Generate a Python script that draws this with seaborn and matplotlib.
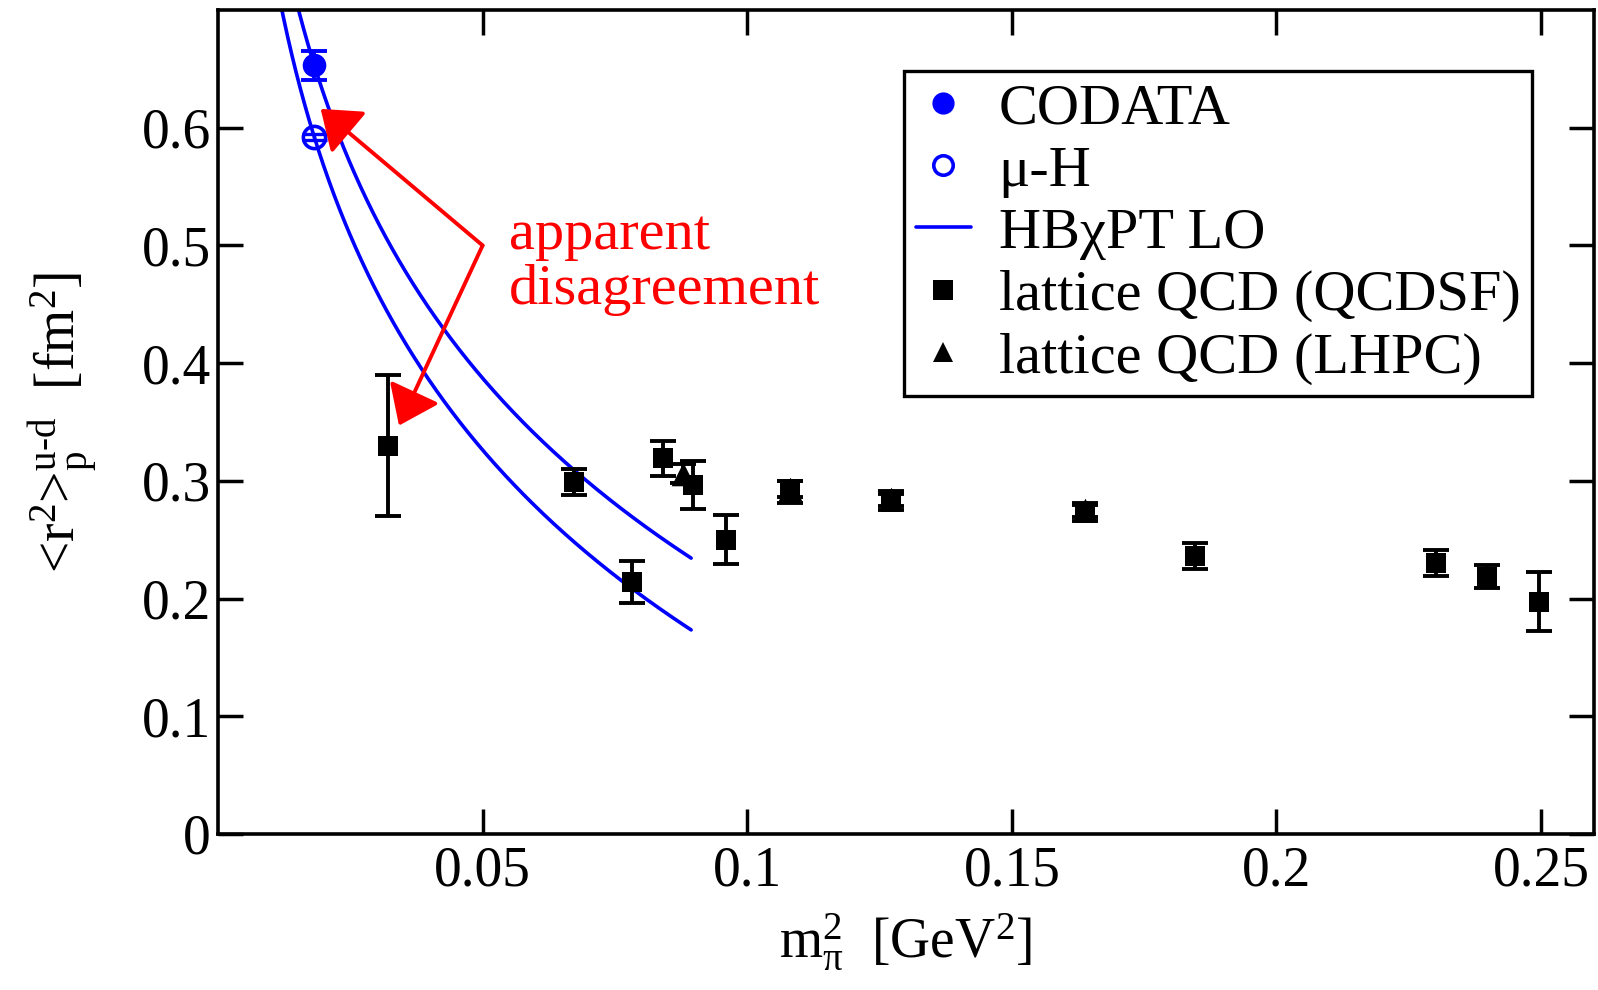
import numpy as np
import pandas as pd
import matplotlib
matplotlib.use("Agg")
import matplotlib.pyplot as plt
from matplotlib.lines import Line2D
import seaborn as sns

# ---- data -----------------------------------------------------------------
# physical pion mass squared [GeV^2]
mpi2_phys = 0.0182

# experimental isovector radii [fm^2]
codata_r2 = 0.653
codata_err = 0.0125
muH_r2 = 0.592
muH_err = 0.0025

# lattice QCD (QCDSF)
qcdsf_mpi2 = [0.0322, 0.0673, 0.0783, 0.0840, 0.0898, 0.0959, 0.1081,
              0.1272, 0.1638, 0.1847, 0.2302, 0.2398, 0.2496]
qcdsf_r2 = [0.330, 0.299, 0.214, 0.319, 0.2965, 0.250, 0.2906,
            0.282, 0.2728, 0.2363, 0.230, 0.2187, 0.1973]
qcdsf_err = [0.060, 0.011, 0.018, 0.015, 0.020, 0.021, 0.009,
             0.007, 0.007, 0.011, 0.011, 0.010, 0.025]

# lattice QCD (LHPC)
lhpc_mpi2 = [0.0879, 0.1081, 0.1272, 0.1638]
lhpc_r2 = [0.306, 0.293, 0.285, 0.275]
lhpc_err = [0.008, 0.007, 0.006, 0.006]

# HBChPT LO: r2(m) = r2_phys - slope * ln(m^2 / m_phys^2)
hb_slope = 0.263          # (1 + 5 g_A^2) / (4 pi f_pi)^2 in fm^2
hb_mpi2_min = 0.010
hb_mpi2_max = 0.0894

# annotation arrows
arrow_origin = (0.050, 0.500)
arrow_tips = [(0.0194, 0.616), (0.0342, 0.347)]
note_pos = (0.0549, 0.450)

xticks = [0.05, 0.10, 0.15, 0.20, 0.25]
yticks = [0.0, 0.1, 0.2, 0.3, 0.4, 0.5, 0.6]

# ---- style ------------------------------------------------------------------
sns.set_theme(style="ticks")
plt.rcParams["font.family"] = ["Liberation Serif", "DejaVu Serif"]
plt.rcParams["mathtext.fontset"] = "custom"
plt.rcParams["mathtext.rm"] = "Liberation Serif"
plt.rcParams["mathtext.it"] = "Liberation Serif:italic"
plt.rcParams["mathtext.bf"] = "Liberation Serif:bold"
plt.rcParams["text.color"] = "black"
plt.rcParams["axes.labelcolor"] = "black"

FS = 40
FS_LEG = 42
BLUE = "#0000ff"
RED = "#ff0000"

fig = plt.figure(figsize=(15.98, 9.90), dpi=100)
ax = fig.add_axes([218 / 1598, 1 - 834 / 990, (1594 - 218) / 1598, (834 - 10) / 990])

# ---- chiral curves ------------------------------------------------------------
m = np.linspace(hb_mpi2_min, hb_mpi2_max, 400)
curves = pd.concat([
    pd.DataFrame({"mpi2": m, "r2": r0 - hb_slope * np.log(m / mpi2_phys), "fit": name})
    for name, r0 in [("CODATA", codata_r2), ("muH", muH_r2)]
])
sns.lineplot(data=curves, x="mpi2", y="r2", units="fit", estimator=None,
             color=BLUE, lw=2.6, ax=ax, legend=False, zorder=2)

# ---- error bars ---------------------------------------------------------------
eb = dict(fmt="none", ecolor="black", elinewidth=2.8, capsize=9.5, capthick=2.8, zorder=3)
ax.errorbar(lhpc_mpi2, lhpc_r2, yerr=lhpc_err, **eb)
ax.errorbar(qcdsf_mpi2, qcdsf_r2, yerr=qcdsf_err, **eb)
ax.errorbar([mpi2_phys], [codata_r2], yerr=[codata_err], fmt="none", ecolor=BLUE,
            elinewidth=2.8, capsize=9.5, capthick=2.8, zorder=3)
ax.errorbar([mpi2_phys], [muH_r2], yerr=[muH_err], fmt="none", ecolor=BLUE,
            elinewidth=2.4, capsize=9.0, capthick=2.4, zorder=3)

# ---- markers -----------------------------------------------------------------
sns.scatterplot(x=lhpc_mpi2, y=lhpc_r2, marker="^", s=17 ** 2, color="black",
                linewidth=0, ax=ax, zorder=4, legend=False)
sns.scatterplot(x=qcdsf_mpi2, y=qcdsf_r2, marker="s", s=15 ** 2, color="black",
                linewidth=0, ax=ax, zorder=5, legend=False)
sns.scatterplot(x=[mpi2_phys], y=[codata_r2], marker="o", s=17 ** 2, color=BLUE,
                linewidth=0, ax=ax, zorder=5, legend=False)
ax.plot([mpi2_phys], [muH_r2], marker="o", ms=16, mfc="none", mec=BLUE, mew=2.6,
        ls="none", zorder=5)

# ---- annotation ----------------------------------------------------------------
for tip in arrow_tips:
    ax.annotate("", xy=tip, xytext=arrow_origin,
                arrowprops=dict(arrowstyle="-|>,head_length=23,head_width=17",
                                mutation_scale=1, color=RED, lw=2.8,
                                shrinkA=0, shrinkB=0), zorder=6)
ax.text(note_pos[0], note_pos[1], "apparent\ndisagreement", color=RED, fontsize=FS_LEG,
        ha="left", va="baseline", linespacing=1.09, zorder=6)

# ---- axes -------------------------------------------------------------------------
ax.set_xlim(0, 0.26)
ax.set_ylim(0, 0.70)
ax.set_xticks(xticks)
ax.set_yticks(yticks)
ax.set_xticklabels([f"{v:g}" for v in xticks])
ax.set_yticklabels([f"{v:g}" for v in yticks])
ax.tick_params(axis="both", direction="in", length=18, width=2.5, top=True,
               right=True, labelsize=FS, color="black", labelcolor="black")
ax.tick_params(axis="x", pad=8)
ax.tick_params(axis="y", pad=5)
for sp in ax.spines.values():
    sp.set_linewidth(2.6)
    sp.set_color("black")
    sp.set_visible(True)

ax.set_xlabel(r"m$_{\mathrm{\pi}}^{2}$  [GeV$^{2}$]", fontsize=FS)
ax.set_ylabel("<r$^{2}$>$_{\\mathrm{p}}^{\\mathrm{u\u2010d}}$  [fm$^{2}$]", fontsize=FS)
ax.xaxis.set_label_coords(0.5, -0.095)
ax.yaxis.set_label_coords(-0.086, 0.5)

# ---- legend -------------------------------------------------------------------------
handles = [
    Line2D([], [], marker="o", ls="none", color=BLUE, ms=16, mew=0),
    Line2D([], [], marker="o", ls="none", mfc="none", mec=BLUE, mew=2.6, ms=14),
    Line2D([], [], color=BLUE, lw=2.6),
    Line2D([], [], marker="s", ls="none", color="black", ms=14, mew=0),
    Line2D([], [], marker="^", ls="none", color="black", ms=15, mew=0),
]
labels = ["CODATA", "\u03bc-H", "HB\u03c7PT LO", "lattice QCD (QCDSF)", "lattice QCD (LHPC)"]
leg = ax.legend(handles, labels, loc="upper right", bbox_to_anchor=(0.955, 0.926),
                borderaxespad=0, fontsize=FS_LEG, frameon=True, fancybox=False,
                framealpha=1, edgecolor="black", handlelength=0.95,
                handletextpad=0.47, labelspacing=0.16, borderpad=0.2)
leg.get_frame().set_linewidth(2.4)
for t in leg.get_texts():
    t.set_color("black")

fig.savefig("out.png", dpi=100)
